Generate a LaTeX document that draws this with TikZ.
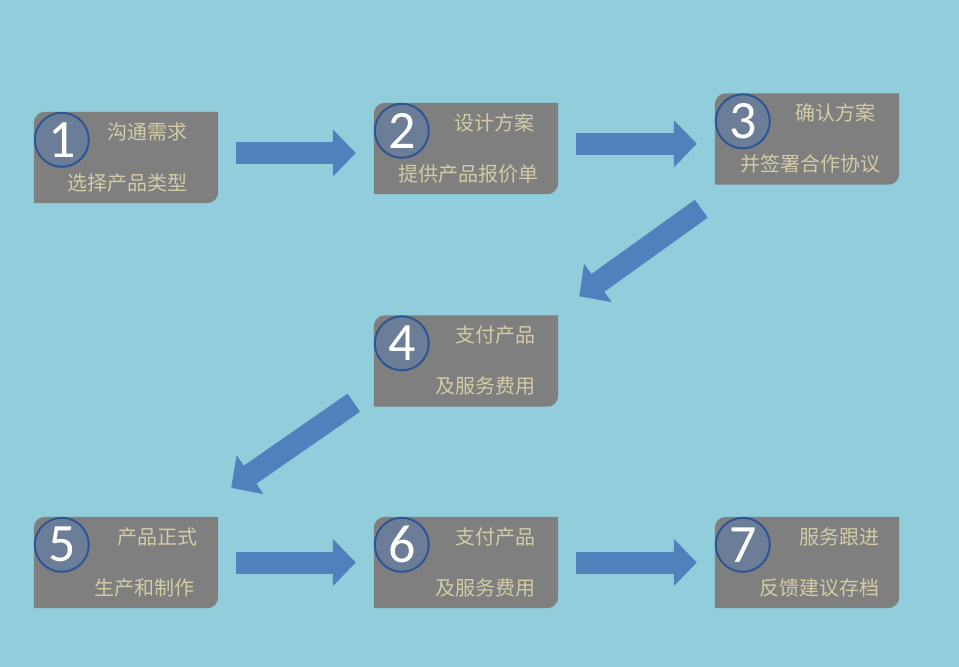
\documentclass[tikz,border=0pt]{standalone}
\usepackage{fontspec}
\newfontfamily\cjk{Noto Sans CJK SC}
\newfontfamily\numfont{Carlito}
\usetikzlibrary{arrows.meta,calc}
\definecolor{bgblue}{HTML}{92CDDC}
\definecolor{boxgray}{HTML}{7F7F7F}
\definecolor{arrowblue}{HTML}{4F81BD}
\definecolor{circfill}{HTML}{6C7D98}
\definecolor{circline}{HTML}{2F5593}
\definecolor{textkhaki}{HTML}{D3CAA6}
\tikzset{
  box/.style={minimum width=184pt, minimum height=91pt, inner sep=0pt},
  numcircle/.style={circle, minimum size=54pt, inner sep=0pt, fill=circfill,
    draw=circline, line width=2pt, text=white, font=\numfont\fontsize{54}{54}\selectfont},
  steptext/.style={anchor=east, inner sep=0pt, text=textkhaki,
    font=\cjk\fontsize{20}{20}\selectfont},
  bigarrow/.style={-{Triangle[length=23pt,width=46pt]}, line width=22pt, draw=arrowblue}
}

\begin{document}
\begin{tikzpicture}[x=1pt, y=-1pt]
      \useasboundingbox (0,0) rectangle (959,667);
      \fill[bgblue] (0,0) rectangle (959,667);

      % boxes
      \node[box] (b1) at (126, 157.5) {};
      \node[box] (b2) at (466, 148.5) {};
      \node[box] (b3) at (807, 139) {};
      \node[box] (b4) at (466, 361) {};
      \node[box] (b5) at (126, 562.5) {};
      \node[box] (b6) at (466, 562.5) {};
      \node[box] (b7) at (807, 562.5) {};

      \foreach \n/\num/\la/\lb/\da/\db in {
          b1/1/沟通需求/选择产品类型/-31/-31,
          b2/2/设计方案/提供产品报价单/-24/-20,
          b3/3/确认方案/并签署合作协议/-24/-19,
          b4/4/支付产品/及服务费用/-23/-23,
          b5/5/产品正式/生产和制作/-21/-24,
          b6/6/支付产品/及服务费用/-23/-23,
          b7/7/服务跟进/反馈建议存档/-20/-20} {
        \fill[boxgray] (\n.south west) [rounded corners=11pt] -- (\n.north west)
          [sharp corners] -- (\n.north east) [rounded corners=11pt] -- (\n.south east)
          [sharp corners] -- cycle;
        \node[numcircle] (\n c) at ($(\n.north west) + (28,28)$) {\num};
        \node[steptext] (\n t1) at ($(\n.north east) + (\da,20)$) {\la};
        \node[steptext] (\n t2) at ($(\n.north east) + (\db,71)$) {\lb};
      }

      % arrows
      \foreach \a/\b in {b1/b2, b2/b3, b5/b6, b6/b7} {
        \coordinate (m) at ($(\a.east)!.5!(\b.west)$);
        \draw[bigarrow] ($(\a.east |- m) + (18,0)$) -- ($(\b.west |- m) + (-18,0)$);
      }
      \coordinate (t34) at ($(b3.south west) + (-13.5,24)$);
      \coordinate (h34) at ($(b4.north east) + (21,-19)$);
      \coordinate (t45) at ($(b4.south west) + (-20,-4)$);
      \coordinate (h45) at ($(b5.north east) + (13,-29)$);
      \draw[bigarrow] (t34) -- (h34);
      \draw[bigarrow] (t45) -- (h45);
\end{tikzpicture}
\end{document}
